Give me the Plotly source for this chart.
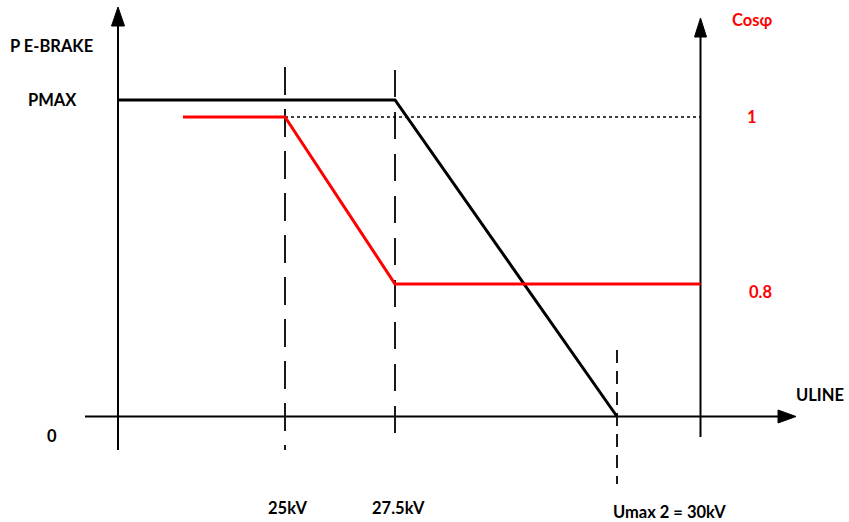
import plotly.graph_objects as go

# ---------------- data (schematic units) ----------------
u_labels = ["25kV", "27.5kV", "Umax 2 = 30kV"]
u_pos = [16.7, 27.7, 49.9]            # schematic position of each voltage mark

p_u = [0.0, 27.7, 49.9]               # black curve: P E-BRAKE vs ULINE
p_val = [1.0, 1.0, 0.0]

cos_u = [6.5, 16.7, 27.7, 58.25]      # red curve: cos(phi) vs ULINE
cos_val = [1.0, 1.0, 0.8, 0.8]

p_tick_labels = ["PMAX", "0"]
p_tick_vals = [1.0, 0.0]
cos_tick_labels = ["1", "0.8"]
cos_tick_vals = [1.0, 0.8]

# ---------------- layout constants ----------------
W, H = 849, 522
X0_PX, XS = 118.0, 10.0           # pixel of u=0, pixels per u-unit
Y0_PX, YS = 416.5, 316.5          # pixel of P=0, pixels per P-unit
C1_PX, CS = 117.0, 835.0          # pixel of cos=1, pixels per cos-unit

def ux(px):   # pixel -> u
    return (px - X0_PX) / XS

def py(pix):  # pixel -> P
    return (Y0_PX - pix) / YS

x_range = [ux(0), ux(W)]
y_range = [py(H), py(0)]
y2_range = [1 + (C1_PX - H) / CS, 1 + C1_PX / CS]

RIGHT_AXIS = ux(700.5)
BLACK = "#000000"
RED = "#FF0000"
DASHC = "#1a1a1a"

fig = go.Figure()

def seg(xs, ys, color, width, dash="solid", yaxis="y"):
    fig.add_trace(go.Scatter(x=xs, y=ys, mode="lines", yaxis=yaxis,
                             line=dict(color=color, width=width, dash=dash),
                             hoverinfo="skip", showlegend=False))

def tri(xs, ys):
    fig.add_trace(go.Scatter(x=xs, y=ys, mode="lines", fill="toself",
                             fillcolor=BLACK, line=dict(color=BLACK, width=1),
                             hoverinfo="skip", showlegend=False))

# axes
seg([0, 0], [py(450), py(25)], BLACK, 2)
tri([ux(118 - 6.5), ux(118 + 6.5), 0, ux(118 - 6.5)], [py(26), py(26), py(7), py(26)])
seg([RIGHT_AXIS, RIGHT_AXIS], [py(437), py(36)], BLACK, 2)
tri([ux(700.5 - 6), ux(700.5 + 6), RIGHT_AXIS, ux(700.5 - 6)], [py(37), py(37), py(18), py(37)])
seg([ux(85), ux(779)], [0, 0], BLACK, 2)
tri([ux(778), ux(778), ux(796), ux(778)], [py(416.5 - 6.5), py(416.5 + 6.5), 0, py(416.5 - 6.5)])

# dashed verticals
seg([u_pos[0], u_pos[0]], [py(67), py(450)], DASHC, 2, "28px,14px")
seg([u_pos[1], u_pos[1]], [py(70), py(436)], DASHC, 2, "27px,15px")
seg([u_pos[2], u_pos[2]], [py(350), py(484)], DASHC, 2, "13px,8px")

# dotted reference at cos=1
seg([cos_u[1], RIGHT_AXIS], [cos_tick_vals[0], cos_tick_vals[0]], BLACK, 1.3, "3px,3px", "y2")

# curves
seg(cos_u, cos_val, RED, 3, yaxis="y2")
seg(p_u, p_val, BLACK, 3)

FONT = dict(family="Lato, 'Open Sans', sans-serif", size=16.5, color=BLACK)
RFONT = dict(FONT, color=RED)
ann = []
ann.append(dict(x=ux(51.5), y=py(46), text="<b>P E-BRAKE</b>", font=FONT))
for lab, v in zip(p_tick_labels, p_tick_vals):
    ann.append(dict(x=ux(52), y=v, text=f"<b>{lab}</b>", font=FONT,
                    yshift=0 if v > 0 else -19))
ann.append(dict(x=ux(752), y=py(20), text="<b>Cosφ</b>", font=RFONT))
for lab, v in zip(cos_tick_labels, cos_tick_vals):
    ann.append(dict(x=ux(752) if v == 1 else ux(760), y=v, yref="y2",
                    text=f"<b>{lab}</b>", font=RFONT, yshift=0 if v == 1 else -8))
ann.append(dict(x=ux(846), y=py(395), text="<b>ULINE</b>", font=FONT, xanchor="right"))
for lab, u in zip(u_labels, u_pos):
    if lab.startswith("Umax"):
        ann.append(dict(x=u, y=py(512), text=f"<b>{lab}</b>", font=FONT,
                        xanchor="left", xshift=-6))
    else:
        ann.append(dict(x=u, y=py(508), text=f"<b>{lab}</b>", font=FONT,
                        xshift=2 if lab == "25kV" else 3))
for a in ann:
    a.setdefault("xref", "x")
    a.setdefault("yref", "y")
    a["showarrow"] = False
    a.setdefault("xanchor", "center")
    a["yanchor"] = "middle"

fig.update_layout(
    width=W, height=H,
    margin=dict(l=0, r=0, t=0, b=0),
    paper_bgcolor="white", plot_bgcolor="white",
    showlegend=False,
    xaxis=dict(range=x_range, visible=False, fixedrange=True),
    yaxis=dict(range=y_range, visible=False, fixedrange=True),
    yaxis2=dict(range=y2_range, visible=False, overlaying="y", fixedrange=True),
    annotations=ann,
)

fig.write_html(
    "out.html",
    config={"displayModeBar": False},
    post_script="document.body.style.margin='0';document.body.style.overflow='hidden';",
)
